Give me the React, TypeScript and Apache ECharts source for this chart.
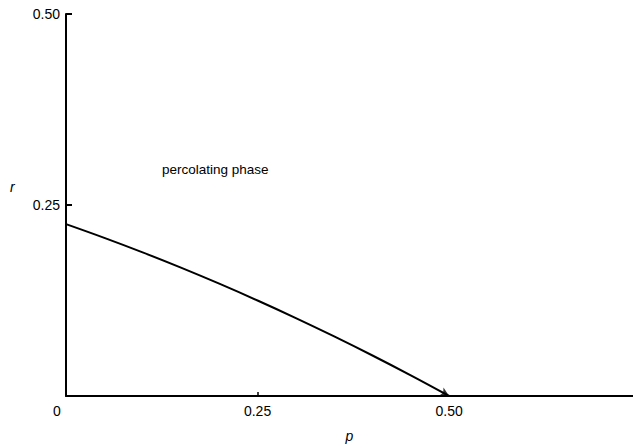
import React, { useEffect, useRef } from "react";
import * as echarts from "echarts";

// Phase boundary r(p) between percolating and non-percolating phases
const pValues = [0, 0.05, 0.1, 0.15, 0.2, 0.25, 0.3, 0.35, 0.4, 0.45, 0.5];
const rValues = [0.225, 0.207, 0.188, 0.168, 0.147, 0.125, 0.102, 0.078, 0.053, 0.027, 0];

const xLabelValues = [0, 0.25, 0.5];
const xTickValues = [0.25];
const yLabelValues = [0.25, 0.5];
const yTickValues = [0.25, 0.5];

const regionLabel = "percolating phase";
const xName = "p";
const yName = "r";

const FONT = "Liberation Sans";

export default function App() {
  const ref = useRef<HTMLDivElement>(null);

  useEffect(() => {
    if (!ref.current) return;
    const chart = echarts.init(ref.current, null, { renderer: "svg" });
    const curve = pValues.map((p, i) => [p, rValues[i]]);
    const last = curve[curve.length - 1];

    chart.setOption({
      animation: false,
      backgroundColor: "#ffffff",
      grid: {
        left: 66,
        right: 0,
        top: 14,
        bottom: 51,
        containLabel: false,
        outerBoundsMode: "none",
      },
      xAxis: {
        type: "value",
        min: 0,
        max: 0.74,
        interval: 0.25,
        name: xName,
        nameLocation: "middle",
        nameGap: 33,
        nameTextStyle: { fontFamily: FONT, fontStyle: "italic", fontSize: 14, color: "#000" },
        axisLine: { show: true, lineStyle: { color: "#000", width: 2 } },
        axisTick: {
          show: true,
          inside: true,
          length: 4,
          customValues: xTickValues,
          lineStyle: { color: "#000", width: 1.5 },
        },
        axisLabel: {
          customValues: xLabelValues,
          margin: 8,
          color: "#000",
          fontFamily: FONT,
          fontSize: 14,
          formatter: (v: number) => (v === 0 ? "{z|0}" : v.toFixed(2)),
          rich: {
            z: { fontFamily: FONT, fontSize: 14, color: "#000", padding: [0, 18, 0, 0] },
          },
        },
        splitLine: { show: false },
      },
      yAxis: {
        type: "value",
        min: 0,
        max: 0.5,
        interval: 0.25,
        axisLine: { show: true, lineStyle: { color: "#000", width: 2 } },
        axisTick: {
          show: true,
          inside: true,
          length: 6,
          customValues: yTickValues,
          lineStyle: { color: "#000", width: 2 },
        },
        axisLabel: {
          customValues: yLabelValues,
          margin: 6,
          color: "#000",
          fontFamily: FONT,
          fontSize: 14,
          formatter: (v: number) => v.toFixed(2),
        },
        splitLine: { show: false },
      },
      graphic: [
        {
          type: "text",
          left: 162,
          top: 162,
          style: { text: regionLabel, fontFamily: FONT, fontSize: 13.5, fill: "#000" },
        },
        {
          type: "text",
          left: 10,
          top: 180,
          style: { text: yName, fontFamily: FONT, fontStyle: "italic", fontSize: 14, fill: "#000" },
        },
      ],
      series: [
        {
          type: "line",
          data: curve,
          smooth: 0.4,
          showSymbol: false,
          symbol: "none",
          lineStyle: { color: "#000", width: 2 },
          silent: true,
        },
        {
          type: "scatter",
          data: [last],
          symbol: "arrow",
          symbolSize: [7, 9],
          symbolRotate: -119,
          itemStyle: { color: "#000" },
          silent: true,
        },
      ],
    });

    return () => chart.dispose();
  }, []);

  return (
    <div
      ref={ref}
      style={{ position: "absolute", left: 0, top: 0, width: 633, height: 447 }}
    />
  );
}
